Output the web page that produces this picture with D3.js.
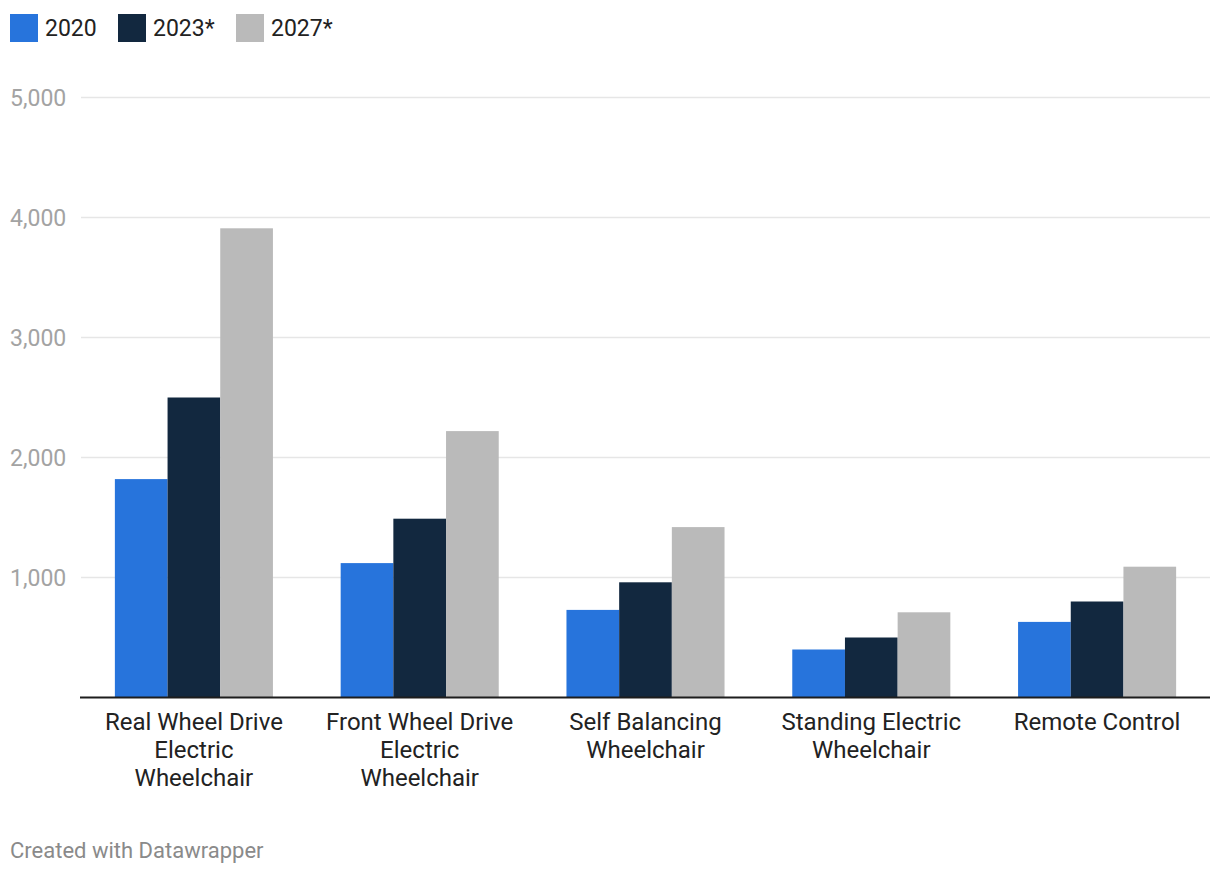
<!DOCTYPE html>
<html>
<head>
<meta charset="utf-8">
<script src="https://cdn.jsdelivr.net/npm/d3@7"></script>
<style>
  html, body { margin: 0; padding: 0; background: #fff; }
  svg text { font-family: Roboto, "Noto Sans", sans-serif; }
</style>
</head>
<body>
<svg id="chart" width="1220" height="876"></svg>
<script>
const categories = [
  ["Real Wheel Drive", "Electric", "Wheelchair"],
  ["Front Wheel Drive", "Electric", "Wheelchair"],
  ["Self Balancing", "Wheelchair"],
  ["Standing Electric", "Wheelchair"],
  ["Remote Control"]
];
const seriesNames = ["2020", "2023*", "2027*"];
const values2020 = [1820, 1120, 730, 400, 630];
const values2023 = [2500, 1490, 960, 500, 800];
const values2027 = [3910, 2220, 1420, 710, 1090];
const yTicks = [1000, 2000, 3000, 4000, 5000];
const colors = ["#2774dc", "#12283f", "#bababa"];

(function () {
const series = [values2020, values2023, values2027];
const svg = d3.select("#chart");
const mLeft = 81, mRight = 1210, mTop = 97.5, mBottom = 697.5;

const x0 = d3.scaleBand().domain(d3.range(categories.length)).range([mLeft, mRight]).paddingInner(0.3).paddingOuter(0.15);
const x1 = d3.scaleBand().domain(d3.range(series.length)).range([0, x0.bandwidth()]);
const y = d3.scaleLinear().domain([0, 5000]).range([mBottom, mTop]);

svg.append("g").selectAll("line").data(yTicks).join("line")
  .attr("x1", mLeft).attr("x2", mRight)
  .attr("y1", d => y(d)).attr("y2", d => y(d))
  .attr("stroke", "#e6e6e6").attr("stroke-width", 1.5);

svg.append("g").selectAll("text").data(yTicks).join("text")
  .attr("x", 10).attr("y", d => y(d)).attr("dy", "0.35em")
  .attr("fill", "#a3a3a3").attr("font-size", 23)
  .text(d => d3.format(",")(d));

const g = svg.append("g");
categories.forEach((c, i) => {
  series.forEach((s, j) => {
    g.append("rect")
      .attr("x", x0(i) + x1(j))
      .attr("y", y(s[i]))
      .attr("width", x1.bandwidth())
      .attr("height", y(0) - y(s[i]))
      .attr("fill", colors[j]);
  });
});

svg.append("line").attr("x1", mLeft - 1).attr("x2", mRight)
  .attr("y1", y(0)).attr("y2", y(0))
  .attr("stroke", "#1d1d1d").attr("stroke-width", 2);

const xl = svg.append("g");
categories.forEach((lines, i) => {
  const cx = x0(i) + x0.bandwidth() / 2;
  const t = xl.append("text")
    .attr("x", cx).attr("y", 730)
    .attr("text-anchor", "middle")
    .attr("fill", "#222").attr("font-size", 24);
  lines.forEach((ln, k) => {
    t.append("tspan").attr("x", cx).attr("y", 730 + k * 28).text(ln);
  });
});

const legendX = [10, 118, 236];
seriesNames.forEach((n, j) => {
  svg.append("rect").attr("x", legendX[j]).attr("y", 14).attr("width", 28).attr("height", 28).attr("fill", colors[j]);
  svg.append("text").attr("x", legendX[j] + 35).attr("y", 28).attr("dy", "0.35em")
    .attr("fill", "#222").attr("font-size", 23).text(n);
});

svg.append("text").attr("x", 10).attr("y", 858)
  .attr("fill", "#8a8a8a").attr("font-size", 22).text("Created with Datawrapper");
})();
</script>
</body>
</html>
